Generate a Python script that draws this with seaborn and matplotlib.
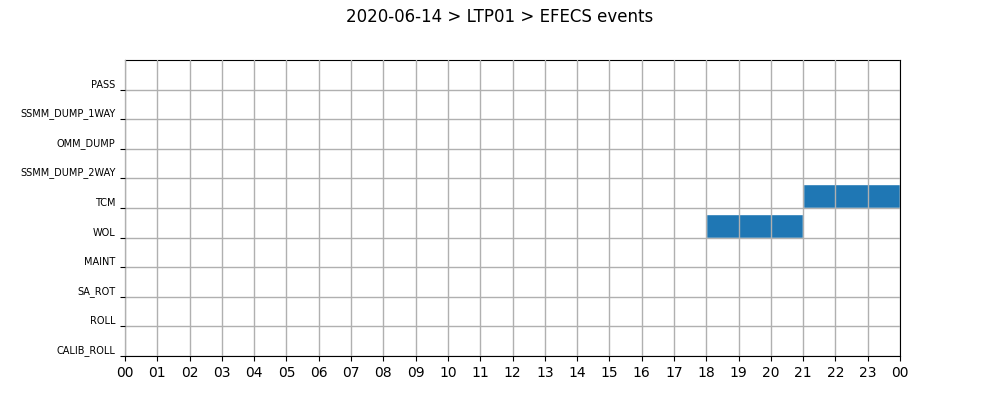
import pandas as pd
import matplotlib
import seaborn as sns

matplotlib.use("Agg")
from matplotlib import pyplot as plt
import matplotlib.dates as mdates

day = "2020-06-14"
event_types = [
    "CALIB_ROLL", "ROLL", "SA_ROT", "MAINT", "WOL",
    "TCM", "SSMM_DUMP_2WAY", "OMM_DUMP", "SSMM_DUMP_1WAY", "PASS",
]
event_names = ["WOL", "TCM"]
event_starts = ["2020-06-14 18:00", "2020-06-14 21:00"]
event_ends = ["2020-06-14 21:00", "2020-06-15 00:00"]

sns.set_style("ticks", {
    "axes.grid": True,
    "grid.color": "#b0b0b0",
    "axes.edgecolor": "black",
    "xtick.color": "black",
    "ytick.color": "black",
    "text.color": "black",
})
plt.rcParams["font.family"] = ["DejaVu Sans"]

events = pd.DataFrame({
    "event": event_names,
    "start": pd.to_datetime(event_starts),
    "end": pd.to_datetime(event_ends),
})
events["row"] = events["event"].map({name: i for i, name in enumerate(event_types)})

fig, ax = plt.subplots(figsize=(10, 4), dpi=100)
fig.subplots_adjust(left=0.125, right=0.9, top=0.85, bottom=0.11)

for _, ev in events.iterrows():
    start = mdates.date2num(ev["start"])
    width = mdates.date2num(ev["end"]) - start
    ax.broken_barh([(start, width)], (ev["row"], 0.8), facecolors="#1f77b4", zorder=1)

ax.set_axisbelow(False)
ax.grid(True, color="#b0b0b0", linewidth=1, zorder=2)
for line in ax.get_xgridlines() + ax.get_ygridlines():
    line.set_zorder(2)

day_start = pd.Timestamp(day)
ax.set_xlim(day_start, day_start + pd.Timedelta(hours=24))
ax.xaxis.set_major_locator(mdates.HourLocator(interval=1))
ax.xaxis.set_major_formatter(mdates.DateFormatter("%H"))
ax.tick_params(axis="x", labelsize=10)

ax.set_ylim(0, len(event_types))
ax.set_yticks(range(len(event_types)))
ax.set_yticklabels(event_types, fontsize=7, va="bottom")
for spine in ax.spines.values():
    spine.set_visible(True)
    spine.set_color("black")

fig.suptitle(f"{day} > LTP01 > EFECS events", fontsize=12)
fig.savefig("out.png", dpi=100)
plt.close(fig)
